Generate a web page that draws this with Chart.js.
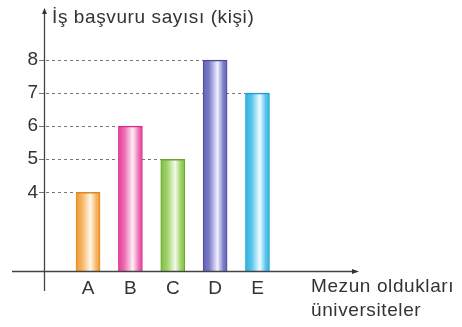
<!DOCTYPE html>
<html>
<head>
<meta charset="utf-8">
<script src="https://cdn.jsdelivr.net/npm/chart.js@4"></script>
<style>
  html, body { margin: 0; padding: 0; background: #fff; }
  #wrap { width: 462px; height: 327px; position: relative; }
</style>
</head>
<body>
<div id="wrap"><canvas id="chart"></canvas></div>
<script>
// universities and number of job applications
const universiteler = ['A', 'B', 'C', 'D', 'E'];
const basvurular = [4, 6, 5, 8, 7];
const yTicks = [4, 5, 6, 7, 8];

// bar colours: [edge, light, highlight, dark side]
const renkler = [
    ['#e0881c', '#f6b462', '#fff6ea', '#ee9a34'],
    ['#d8308a', '#ee6cb4', '#fff0f8', '#e2409a'],
    ['#6aa82c', '#9cd064', '#f4fbe8', '#80c044'],
    ['#4a4aa0', '#7c7cc8', '#f0f0ff', '#6262b6'],
    ['#1c9ccc', '#56c4ec', '#f0fcff', '#30b2e2']
];

const FONT = '"Liberation Sans", Arial, sans-serif';
const TEXT = '#333';

function barGradient(ctx) {
    const chart = ctx.chart;
    const i = ctx.dataIndex;
    const c = renkler[i];
    const x = chart.scales.x ? chart.scales.x.getPixelForValue(i) : NaN;
    if (!isFinite(x)) return c[1];
    const g = chart.ctx.createLinearGradient(x - 12, 0, x + 12, 0);
    g.addColorStop(0, c[3]);
    g.addColorStop(0.25, c[1]);
    g.addColorStop(0.6, c[2]);
    g.addColorStop(0.85, c[1]);
    g.addColorStop(1, c[3]);
    return g;
}

// axes with arrows, dashed guide lines, title texts
const ciz = {
    id: 'ciz',
    beforeDatasetsDraw(chart) {
        const {ctx, chartArea} = chart;
        const meta = chart.getDatasetMeta(0);
        ctx.save();
        ctx.strokeStyle = '#777';
        ctx.lineWidth = 1;
        meta.data.forEach(el => {
            const y = Math.round(el.y) + 0.5;
            ctx.setLineDash([]);
            ctx.beginPath();
            ctx.moveTo(chartArea.left - 5, y);
            ctx.lineTo(chartArea.left, y);
            ctx.stroke();
            ctx.setLineDash([3, 3]);
            ctx.beginPath();
            ctx.moveTo(chartArea.left + 2, y);
            ctx.lineTo(el.x - el.width / 2, y);
            ctx.stroke();
        });
        ctx.restore();
    },
    afterDatasetsDraw(chart) {
        const {ctx, chartArea} = chart;
        const ax = chartArea.left + 0.5;
        const ay = chartArea.bottom + 0.5;
        ctx.save();
        ctx.strokeStyle = '#444';
        ctx.fillStyle = '#333';
        ctx.lineWidth = 1.3;
        ctx.beginPath();
        ctx.moveTo(ax, 291);
        ctx.lineTo(ax, 12);
        ctx.moveTo(12, ay);
        ctx.lineTo(chartArea.right - 2, ay);
        ctx.stroke();
        // arrow heads
        ctx.beginPath();
        ctx.moveTo(ax, 8);
        ctx.lineTo(ax - 2.5, 14);
        ctx.lineTo(ax + 2.5, 14);
        ctx.closePath();
        ctx.fill();
        ctx.beginPath();
        ctx.moveTo(chartArea.right + 2, ay);
        ctx.lineTo(chartArea.right - 5, ay - 2.5);
        ctx.lineTo(chartArea.right - 5, ay + 2.5);
        ctx.closePath();
        ctx.fill();
        // texts
        ctx.fillStyle = TEXT;
        ctx.font = '19px ' + FONT;
        ctx.letterSpacing = '0.6px';
        ctx.textBaseline = 'middle';
        ctx.textAlign = 'left';
        ctx.fillText('İş başvuru sayısı (kişi)', 52, 18);
        ctx.fillText('Mezun oldukları', 311, 287);
        ctx.fillText('üniversiteler', 311, 311);
        ctx.restore();
    }
};

new Chart(document.getElementById('chart'), {
    type: 'bar',
    data: {
        datasets: [{
            data: universiteler.map((u, i) => ({x: i, y: basvurular[i]})),
            backgroundColor: barGradient,
            borderColor: renkler.map(c => c[0]),
            borderWidth: {top: 1.5, left: 1, right: 1, bottom: 0},
            borderSkipped: false,
            barThickness: 24
        }]
    },
    options: {
        responsive: true,
        maintainAspectRatio: false,
        animation: false,
        layout: { padding: { top: 10, right: 105, bottom: 0, left: 0 } },
        plugins: {
            legend: { display: false },
            tooltip: { enabled: false }
        },
        scales: {
            x: {
                type: 'linear',
                offset: false,
                min: -1.04,
                max: 6.35,
                grid: { display: false, drawTicks: false, offset: false },
                border: { display: false },
                afterFit: s => { s.height = 56; },
                afterBuildTicks: s => { s.ticks = universiteler.map((u, i) => ({value: i})); },
                ticks: {
                    padding: 6,
                    color: TEXT,
                    font: { size: 19, family: FONT },
                    callback: v => universiteler[v] ?? ''
                }
            },
            y: {
                min: 1.62,
                max: 9.29,
                grid: { display: false, drawTicks: false },
                border: { display: false },
                afterFit: s => { s.width = 44; },
                afterBuildTicks: s => { s.ticks = yTicks.map(v => ({value: v})); },
                ticks: {
                    padding: 6,
                    color: TEXT,
                    font: { size: 19, family: FONT }
                }
            }
        }
    },
    plugins: [ciz]
});
</script>
</body>
</html>
